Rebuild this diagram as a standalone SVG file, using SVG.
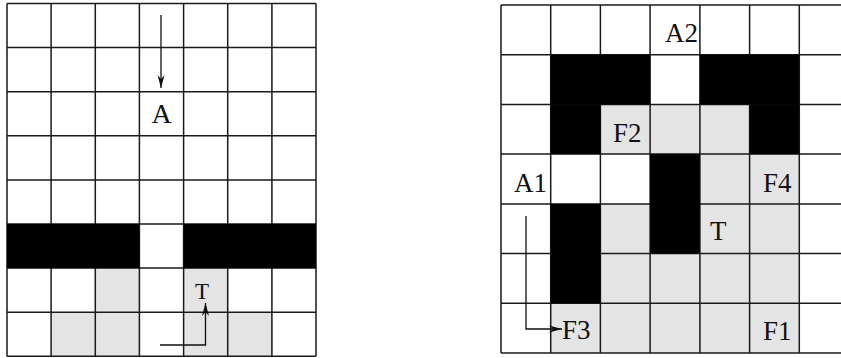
<svg xmlns="http://www.w3.org/2000/svg" width="841" height="358" viewBox="0 0 841 358">
<style>
.blk{fill:#000}
.gry{fill:#e4e4e4}
.grid{fill:none;stroke:#1a1a1a;stroke-width:1.5}
.lbl{font-family:"Liberation Serif","Times New Roman",serif;fill:#111}
.con{fill:none;stroke:#111;stroke-width:1.3}
</style>
<defs>
<marker id="ah" markerUnits="userSpaceOnUse" markerWidth="14" markerHeight="10" refX="13" refY="5" orient="auto">
<path d="M0,1.5 L13,5 L0,8.5 L4,5 z" fill="#111"/>
</marker>
</defs>
<rect width="841" height="358" fill="#fff"/>
<g id="left-grid">
<rect class="gry" x="95.3" y="268.1" width="44.1" height="44.1"/>
<rect class="gry" x="183.6" y="268.1" width="44.1" height="44.1"/>
<rect class="gry" x="51.1" y="312.2" width="88.3" height="44.1"/>
<rect class="gry" x="183.6" y="312.2" width="88.3" height="44.1"/>
<path class="grid" d="M7,3.5V356.3M51.1,3.5V356.3M95.3,3.5V356.3M139.4,3.5V356.3M183.6,3.5V356.3M227.7,3.5V356.3M271.9,3.5V356.3M316,3.5V356.3M7,3.5H316M7,47.6H316M7,91.7H316M7,135.8H316M7,179.9H316M7,224H316M7,268.1H316M7,312.2H316M7,356.3H316"/>
<rect class="blk" x="7" y="224" width="132.4" height="44.1"/>
<rect class="blk" x="183.6" y="224" width="132.4" height="44.1"/>
</g>
<g id="right-grid">
<rect class="gry" x="600.4" y="104.4" width="149.2" height="49.7"/>
<rect class="gry" x="699.9" y="154.1" width="99.4" height="49.8"/>
<rect class="gry" x="600.4" y="203.9" width="49.7" height="49.7"/>
<rect class="gry" x="699.9" y="203.9" width="99.4" height="49.7"/>
<rect class="gry" x="600.4" y="253.6" width="198.9" height="49.7"/>
<rect class="gry" x="550.7" y="303.3" width="248.6" height="49.7"/>
<path class="grid" d="M501,5V353M550.7,5V353M600.4,5V353M650.1,5V353M699.9,5V353M749.6,5V353M799.3,5V353M501,5H845M501,54.7H845M501,104.4H845M501,154.1H845M501,203.9H845M501,253.6H845M501,303.3H845M501,353H845"/>
<rect class="blk" x="550.7" y="54.7" width="99.4" height="49.7"/>
<rect class="blk" x="699.9" y="54.7" width="99.4" height="49.7"/>
<rect class="blk" x="550.7" y="104.4" width="49.7" height="49.7"/>
<rect class="blk" x="749.6" y="104.4" width="49.7" height="49.7"/>
<rect class="blk" x="650.1" y="154.1" width="49.8" height="99.5"/>
<rect class="blk" x="550.7" y="203.9" width="49.7" height="99.4"/>
</g>
<g id="label-A"><text class="lbl" x="161.5" y="123" font-size="28" text-anchor="middle">A</text></g>
<g id="label-T-left"><text class="lbl" x="202" y="299" font-size="23" text-anchor="middle">T</text></g>
<g id="label-A2"><text class="lbl" x="665" y="42" font-size="27">A2</text></g>
<g id="label-A1"><text class="lbl" x="514" y="192" font-size="27">A1</text></g>
<g id="label-F2"><text class="lbl" x="613" y="142" font-size="27">F2</text></g>
<g id="label-F4"><text class="lbl" x="763" y="192" font-size="27">F4</text></g>
<g id="label-T-right"><text class="lbl" x="710" y="240" font-size="27">T</text></g>
<g id="label-F3"><text class="lbl" x="562" y="339" font-size="27">F3</text></g>
<g id="label-F1"><text class="lbl" x="763" y="340" font-size="27">F1</text></g>
<g id="connectors">
<path class="con" d="M161,15V88" marker-end="url(#ah)"/>
<path class="con" d="M160,345H205.5V303" marker-end="url(#ah)"/>
<path class="con" d="M526,216V329H562" marker-end="url(#ah)"/>
</g>
</svg>
